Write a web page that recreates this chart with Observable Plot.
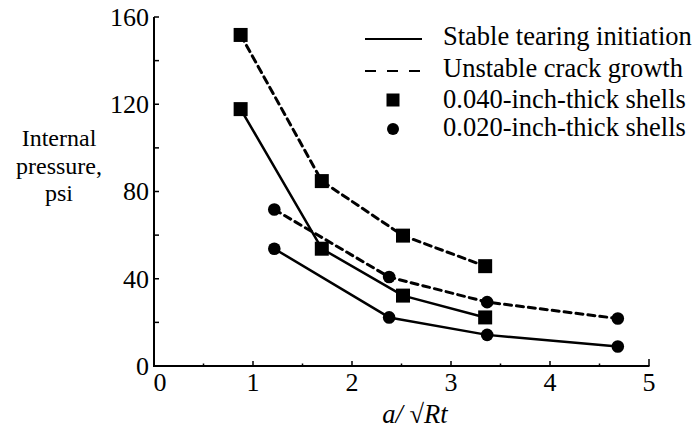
<!DOCTYPE html>
<html>
<head>
<meta charset="utf-8">
<script src="https://cdn.jsdelivr.net/npm/d3@7"></script>
<script src="https://cdn.jsdelivr.net/npm/@observablehq/plot@0.6"></script>
<style>
  html, body { margin: 0; padding: 0; background: #fff; }
</style>
</head>
<body>
<div id="wrap"></div>
<script>
// ---- data ----
const x040 = [0.87, 1.69, 2.51, 3.34];          // a/sqrt(Rt), 0.040-inch shells
const stable040 = [118, 54, 32.5, 22.5];         // stable tearing initiation, psi
const unstable040 = [152, 85, 60, 46];           // unstable crack growth, psi
const x020 = [1.21, 2.37, 3.36, 4.68];           // a/sqrt(Rt), 0.020-inch shells
const stable020 = [54, 22.5, 14.5, 9.2];
const unstable020 = [72, 41, 29.5, 22];

const xDomain = [0, 5];
const yDomain = [0, 160];
const xTickLabels = [0, 1, 2, 3, 4, 5];
const yTickLabels = [0, 40, 80, 120, 160];
const xMajorTicks = [1, 2, 3, 4, 5];
const xMinorTicks = [0.5, 1.5, 2.5, 3.5, 4.5];
const yMinorTicks = [20, 40, 60, 80, 100, 120, 140, 160];

const legendLabels = ["Stable tearing initiation", "Unstable crack growth", "0.040-inch-thick shells", "0.020-inch-thick shells"];
const yTitleLines = ["Internal", "pressure,", "psi"];
const xTitle = "a/ \u221ARt";

// ---- build tables ----
const series = [];
x040.forEach((x, i) => series.push({x, y: stable040[i], kind: "stable", shell: "0.040"}));
x040.forEach((x, i) => series.push({x, y: unstable040[i], kind: "unstable", shell: "0.040"}));
x020.forEach((x, i) => series.push({x, y: stable020[i], kind: "stable", shell: "0.020"}));
x020.forEach((x, i) => series.push({x, y: unstable020[i], kind: "unstable", shell: "0.020"}));
const stableData = series.filter(d => d.kind === "stable");
const unstableData = series.filter(d => d.kind === "unstable");
const squares = series.filter(d => d.shell === "0.040");
const circles = series.filter(d => d.shell === "0.020");

const W = 692, H = 432;
const FONT = "Liberation Serif, serif";

const chart = Plot.plot({
  width: W,
  height: H,
  marginLeft: 154,
  marginRight: 43,
  marginTop: 17,
  marginBottom: 66,
  style: {fontFamily: FONT, fontSize: "26px"},
  x: {domain: xDomain, axis: null},
  y: {domain: yDomain, axis: null},
  marks: [
    Plot.line(stableData, {x: "x", y: "y", z: d => d.shell, stroke: "#000", strokeWidth: 2.5}),
    Plot.line(unstableData, {x: "x", y: "y", z: d => d.shell, stroke: "#000", strokeWidth: 3, strokeDasharray: "7,5"}),
    Plot.dot(squares, {x: "x", y: "y", symbol: "square", r: 7.9, fill: "#000"}),
    Plot.dot(circles, {x: "x", y: "y", symbol: "circle", r: 6.3, fill: "#000"})
  ]
});

document.getElementById("wrap").appendChild(chart);

// ---- axes (as filled rects), legend and titles, placed with the chart's scales ----
const sx = v => chart.scale("x").apply(v);
const sy = v => chart.scale("y").apply(v);
const ns = "http://www.w3.org/2000/svg";
const g = document.createElementNS(ns, "g");
g.setAttribute("font-family", FONT);
g.setAttribute("fill", "#000");
g.setAttribute("text-anchor", "start");
chart.appendChild(g);
function el(tag, attrs, text) {
  const e = document.createElementNS(ns, tag);
  for (const k in attrs) e.setAttribute(k, attrs[k]);
  if (text != null) e.textContent = text;
  g.appendChild(e);
  return e;
}
const x0 = sx(xDomain[0]), x1 = sx(xDomain[1]);
const y0 = sy(yDomain[0]), y1 = sy(yDomain[1]);
// axis lines as thin filled rectangles
el("rect", {x: x0 - 1, y: y1, width: 2, height: y0 - y1 + 1, fill: "#000"});
el("rect", {x: x0 - 1, y: y0 - 1, width: x1 - x0 + 1.5, height: 2, fill: "#000"});
// inward ticks as thin rectangles
yMinorTicks.forEach(v => el("rect", {x: x0, y: sy(v) - 0.75, width: 5, height: 1.5, fill: "#000"}));
xMajorTicks.forEach(v => {
  const len = v === xDomain[1] ? 7 : 5;
  el("rect", {x: sx(v) - 0.75, y: y0 - len, width: 1.5, height: len, fill: "#000"});
});
xMinorTicks.forEach(v => el("rect", {x: sx(v) - 0.75, y: y0 - 2.5, width: 1.5, height: 2.5, fill: "#000"}));
// tick labels
yTickLabels.forEach(v => el("text", {x: x0 - 5, y: sy(v), dy: "0.34em", "text-anchor": "end", "font-size": 26}, String(v)));
xTickLabels.forEach(v => el("text", {x: sx(v) + (v === 0 ? 6 : 0), y: y0 + 25, "text-anchor": "middle", "font-size": 26}, String(v)));
// legend
const legBase = [45, 77, 108, 136];
el("path", {d: "M365,39H422", stroke: "#000", "stroke-width": 2, fill: "none"});
el("path", {d: "M365,71H422", stroke: "#000", "stroke-width": 2, "stroke-dasharray": "11,11", fill: "none"});
el("rect", {x: 386.5, y: 93.5, width: 13, height: 13, fill: "#000"});
el("circle", {cx: 393, cy: 129, r: 6, fill: "#000"});
legendLabels.forEach((t, i) => el("text", {x: 443, y: legBase[i], "text-anchor": "start", "font-size": 26.5}, t));
// y title
yTitleLines.forEach((t, i) => el("text", {x: 59, y: [146, 173.5, 201][i], "text-anchor": "middle", "font-size": 24}, t));
// x title
el("text", {x: 415, y: 423, "text-anchor": "middle", "font-style": "italic", "font-size": 26.5}, xTitle);
</script>
</body>
</html>
